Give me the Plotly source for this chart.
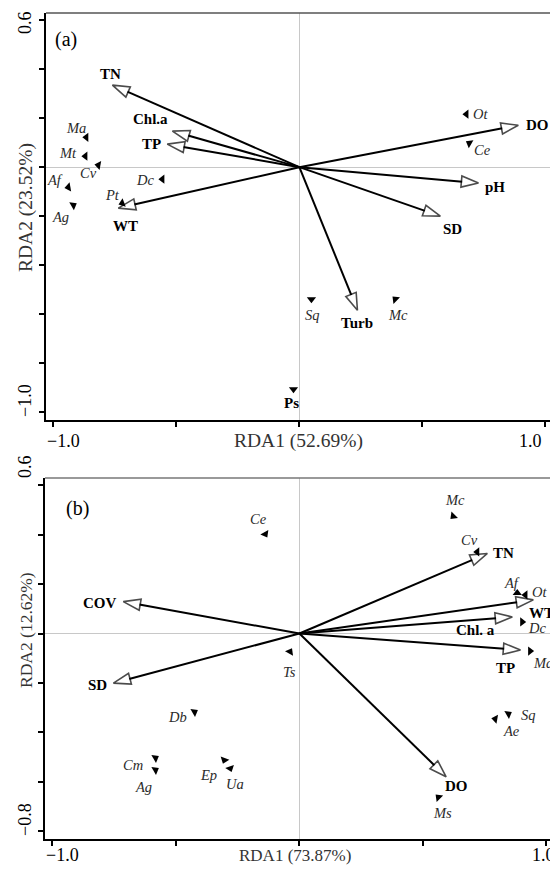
import plotly.graph_objects as go

W, H = 550, 870

# ---------------- Panel (a) data ----------------
env_a_names = ["TN", "Chl.a", "TP", "WT", "DO", "pH", "SD", "Turb"]
env_a_x = [-0.760, -0.516, -0.537, -0.736, 0.890, 0.728, 0.573, 0.236]
env_a_y = [0.335, 0.147, 0.094, -0.167, 0.171, -0.065, -0.200, -0.584]

sp_a_names = ["Ot", "Ce", "Ma", "Mt", "Cv", "Af", "Dc", "Pt", "Ag", "Sq", "Mc", "Ps"]
sp_a_x = [0.679, 0.691, -0.866, -0.870, -0.817, -0.939, -0.557, -0.720, -0.919, 0.049, 0.390, -0.024]
sp_a_y = [0.216, 0.098, 0.122, 0.045, 0.008, -0.082, -0.049, -0.147, -0.155, -0.539, -0.539, -0.906]

# ---------------- Panel (b) data ----------------
env_b_names = ["COV", "SD", "TN", "WT", "Chl. a", "TP", "DO"]
env_b_x = [-0.713, -0.753, 0.761, 0.947, 0.862, 0.895, 0.594]
env_b_y = [0.129, -0.201, 0.324, 0.136, 0.067, -0.067, -0.580]

sp_b_names = ["Mc", "Cv", "Af", "Ot", "Dc", "Ce", "Ts", "Ma", "Sq", "Ae", "Ms", "Db", "Cm", "Ag", "Ep", "Ua"]
sp_b_x = [0.623, 0.720, 0.882, 0.915, 0.902, -0.138, -0.038, 0.934, 0.846, 0.793, 0.563, -0.425, -0.583, -0.583, -0.304, -0.280]
sp_b_y = [0.475, 0.330, 0.164, 0.156, 0.047, 0.403, -0.074, -0.071, -0.326, -0.346, -0.663, -0.318, -0.504, -0.553, -0.512, -0.546]

x_title_a = "RDA1 (52.69%)"
y_title_a = "RDA2 (23.52%)"
x_title_b = "RDA1 (73.87%)"
y_title_b = "RDA2 (12.62%)"

# ---------------- styles / label offsets (pixels) ----------------
env_a_off = [(-2, 11), (-22, 12), (-16, 0), (7, -18), (19, 0), (17, -4), (12, -13), (0, -13)]
sp_a_off = [(14, 0), (13, -7), (-10, 9), (-17, 3), (-10, -8), (-13, 7), (-17, -1), (-10, 8),
            (-13, -12), (1, -16), (3, -16), (-2, -14)]
sp_a_angle = [270, 300, 270, 270, 280, 260, 270, 250, 60, 180, 315, 180]
sp_a_bold = [False] * 11 + [True]

env_b_off = [(-23, -1), (-16, -2), (16, 0), (8, -13), (-37, -13), (-15, -18), (10, -9)]
sp_b_off = [(2, 16), (-8, 12), (-5, 10), (14, 3), (15, -6), (-7, 15), (-1, -20), (13, -12),
            (20, -1), (16, -12), (4, -16), (-17, -5), (-22, -7), (-12, -17), (-16, -15), (5, -16)]
sp_b_angle = [225, 270, 0, 270, 90, 150, 30, 90, 60, 280, 315, 60, 60, 60, 200, 160]

SERIF = "Liberation Serif, Times New Roman, serif"

fig = go.Figure()


def add_panel(xa, ya, ex, ey, ename, eoff, sx, sy, sname, soff, sang, sbold=None):
    for x, y in zip(ex, ey):
        fig.add_trace(go.Scatter(
            x=[0, x], y=[0, y], mode="lines+markers", xaxis=xa, yaxis=ya,
            line=dict(color="black", width=2),
            marker=dict(symbol="arrow", size=[0, 18], angleref="previous",
                        color="white", line=dict(color="black", width=1.6)),
            hoverinfo="skip", showlegend=False))
    fig.add_trace(go.Scatter(
        x=sx, y=sy, mode="markers", xaxis=xa, yaxis=ya,
        marker=dict(symbol="triangle-up", size=8, angle=sang, color="black", line=dict(width=0)),
        hoverinfo="skip", showlegend=False))
    for x, y, n, (dx, dy) in zip(ex, ey, ename, eoff):
        fig.add_annotation(x=x, y=y, xref=xa, yref=ya, text="<b>%s</b>" % n, showarrow=False,
                           xshift=dx, yshift=dy, font=dict(family=SERIF, size=15, color="black"))
    for i, (x, y, n, (dx, dy)) in enumerate(zip(sx, sy, sname, soff)):
        bold = sbold[i] if sbold else False
        txt_ = "<b>%s</b>" % n if bold else "<i>%s</i>" % n
        fig.add_annotation(x=x, y=y, xref=xa, yref=ya, text=txt_, showarrow=False,
                           xshift=dx, yshift=dy,
                           font=dict(family=SERIF, size=15 if bold else 14.5,
                                     color="black" if bold else "#2a2a2a"))


add_panel("x", "y", env_a_x, env_a_y, env_a_names, env_a_off,
          sp_a_x, sp_a_y, sp_a_names, sp_a_off, sp_a_angle, sp_a_bold)
add_panel("x2", "y2", env_b_x, env_b_y, env_b_names, env_b_off,
          sp_b_x, sp_b_y, sp_b_names, sp_b_off, sp_b_angle)


def px(v):
    return v / W


def py(v):
    return 1 - v / H


axis_common = dict(showgrid=False, zeroline=True, zerolinecolor="#c8c8c8", zerolinewidth=1,
                   showline=True, linecolor="black", linewidth=1.5, ticks="outside",
                   ticklen=5, tickwidth=1.5, tickcolor="black", showticklabels=False,
                   fixedrange=True)

# panel (a): left 46, right 550, top 13, bottom 420
fig.update_layout(
    xaxis=dict(domain=[px(46), 1], range=[-1.03, -1.03 + 504 / 246],
               tickvals=[-1, -0.5, 0, 0.5, 1], anchor="y", **axis_common),
    yaxis=dict(domain=[py(420), py(13)], range=[-1.032, -1.032 + 407 / 245],
               tickvals=[0.6, 0.4, 0.2, 0, -0.2, -0.4, -0.6, -0.8, -1.0], anchor="x", **axis_common),
    xaxis2=dict(domain=[px(45), 1], range=[-1.03, -1.03 + 505 / 247],
                tickvals=[-1, -0.5, 0, 0.5, 1], anchor="y2", **axis_common),
    yaxis2=dict(domain=[py(839), py(478)], range=[-0.832, -0.832 + 361 / 247],
                tickvals=[0.6, 0.4, 0.2, 0, -0.2, -0.4, -0.6, -0.8], anchor="x2", **axis_common),
)

# top frame lines
fig.add_shape(type="line", xref="paper", yref="paper", x0=px(46), x1=1, y0=py(13), y1=py(13),
              line=dict(color="#555555", width=1.5))
fig.add_shape(type="line", xref="paper", yref="paper", x0=px(45), x1=1, y0=py(478), y1=py(478),
              line=dict(color="#777777", width=1.5))


def txt(x, y, s, size, angle=0, color="black", xanchor="center"):
    fig.add_annotation(x=px(x), y=py(y), xref="paper", yref="paper", text=s, showarrow=False,
                       textangle=angle, xanchor=xanchor, yanchor="middle",
                       font=dict(family=SERIF, size=size, color=color))


# panel (a) texts
txt(66, 40, "(a)", 20)
txt(25, 23, "0.6", 18, -90)
txt(25, 401, "\u22121.0", 18, -90)
txt(26, 208, y_title_a, 19.5, -90, "#333333")
txt(63, 441, "\u22121.0", 18)
txt(298, 441, x_title_a, 19.5, 0, "#333333")
txt(530, 441, "1.0", 18)

# panel (b) texts
txt(77, 508, "(b)", 20)
txt(25, 467, "0.6", 18, -90)
txt(25, 820, "\u22120.8", 18, -90)
txt(26, 630, y_title_b, 17.5, -90, "#333333")
txt(62, 855, "\u22121.0", 18)
txt(295, 855, x_title_b, 17, 0, "#333333")
txt(530, 855, "1.0", 18, 0, "black", "left")

fig.update_layout(width=W, height=H, margin=dict(l=0, r=0, t=0, b=0),
                  paper_bgcolor="white", plot_bgcolor="white", showlegend=False)

fig.write_html("out.html", config={"displayModeBar": False},
               post_script="document.body.style.margin='0';"
                           "document.body.style.overflow='hidden';"
                           "document.documentElement.style.overflow='hidden';")
